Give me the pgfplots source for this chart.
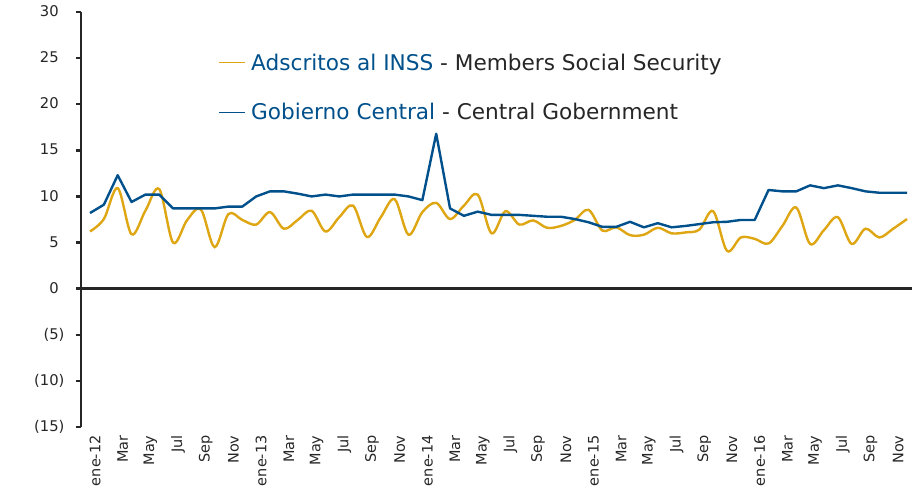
\documentclass[border=0pt]{standalone}
\usepackage{fontspec}
\setmainfont{DejaVu Sans}
\usepackage{pgfplots}
\usepackage{pgfplotstable}
\pgfplotsset{compat=1.18}
\definecolor{gcblue}{HTML}{00508C}
\definecolor{inssor}{HTML}{DFA614}
\definecolor{txt}{HTML}{262626}

\pgfplotstableread{
m v
0 8.2
1 9.1
2 12.3
3 9.4
4 10.2
5 10.2
6 8.7
7 8.7
8 8.7
9 8.7
10 8.9
11 8.9
12 10.0
13 10.55
14 10.55
15 10.3
16 10.0
17 10.2
18 10.0
19 10.2
20 10.2
21 10.2
22 10.2
23 10.0
24 9.6
25 16.8
26 8.7
27 7.9
28 8.35
29 8.0
30 8.0
31 8.0
32 7.9
33 7.8
34 7.8
35 7.55
36 7.2
37 6.7
38 6.7
39 7.25
40 6.65
41 7.1
42 6.65
43 6.8
44 7.0
45 7.2
46 7.25
47 7.45
48 7.45
49 10.7
50 10.55
51 10.55
52 11.2
53 10.9
54 11.2
55 10.9
56 10.55
57 10.4
58 10.4
59 10.4
}\gobierno

\pgfplotstableread{
m v
0 6.2
1 7.55
2 10.9
3 5.9
4 8.45
5 10.8
6 5.0
7 7.4
8 8.6
9 4.5
10 8.1
11 7.45
12 6.95
13 8.3
14 6.5
15 7.45
16 8.45
17 6.2
18 7.75
19 9.0
20 5.6
21 7.75
22 9.7
23 5.85
24 8.3
25 9.3
26 7.55
27 9.0
28 10.2
29 6.0
30 8.4
31 6.95
32 7.4
33 6.6
34 6.8
35 7.45
36 8.55
37 6.3
38 6.65
39 5.8
40 5.85
41 6.6
42 6.0
43 6.1
44 6.4
45 8.4
46 4.1
47 5.55
48 5.4
49 4.9
50 6.8
51 8.8
52 4.85
53 6.35
54 7.75
55 4.85
56 6.5
57 5.55
58 6.5
59 7.55
}\inss

\begin{document}
\begin{tikzpicture}[x=1bp,y=1bp]
\path[use as bounding box] (0,0) rectangle (912,502);
\begin{axis}[
  at={(81bp,75bp)}, anchor=south west,
  scale only axis, width=831bp, height=415bp,
  xmin=-0.65, xmax=59.36, ymin=-15, ymax=30,
  axis y line*=left, axis x line*=bottom,
  x axis line style={draw=none},
  y axis line style={line width=2.4bp, black!85},
  tick align=outside,
  major tick length=5bp,
  ytick={-15,-10,-5,0,5,10,15,20,25,30},
  yticklabels={(15),(10),(5),0\phantom{)},5\phantom{)},10\phantom{)},15\phantom{)},20\phantom{)},25\phantom{)},30\phantom{)}},
  ytick style={line width=2.4bp, black!85},
  yticklabel style={font=\fontsize{14.8}{17}\selectfont, text=txt, anchor=east, xshift=-8bp},
  xtick={0,2,...,58},
  xticklabels={ene-12,Mar,May,Jul,Sep,Nov,ene-13,Mar,May,Jul,Sep,Nov,ene-14,Mar,May,Jul,Sep,Nov,ene-15,Mar,May,Jul,Sep,Nov,ene-16,Mar,May,Jul,Sep,Nov},
  xtick style={draw=none},
  xticklabel style={font=\fontsize{14.5}{17}\selectfont, text=txt, rotate=90, anchor=east, yshift=-5bp},
  /pgf/number format/assume math mode=true,
  clip=false,
  legend style={at={(0.165,0.905)}, anchor=north west, draw=none, fill=none,
    font=\fontsize{21.7}{25}\selectfont, row sep=28bp, inner sep=0pt,
    cells={anchor=west}},
  legend image code/.code={\draw[#1, line width=1.4bp] (0bp,0bp) -- (26bp,0bp); \path (29bp,0bp);},
]
\draw[line width=2.4bp, black!85] (axis cs:-0.65,0) -- (axis cs:59.36,0);
\addplot[color=inssor, line width=2.4bp, smooth, tension=0.55] table[x=m, y=v] {\inss};
\addlegendentry{\textcolor{gcblue}{Adscritos al INSS} \textcolor{txt}{- Members Social Security}}
\addplot[color=gcblue, line width=2.4bp, line join=round] table[x=m, y=v] {\gobierno};
\addlegendentry{\textcolor{gcblue}{Gobierno Central} \textcolor{txt}{- Central Gobernment}}
\end{axis}
\end{tikzpicture}
\end{document}
